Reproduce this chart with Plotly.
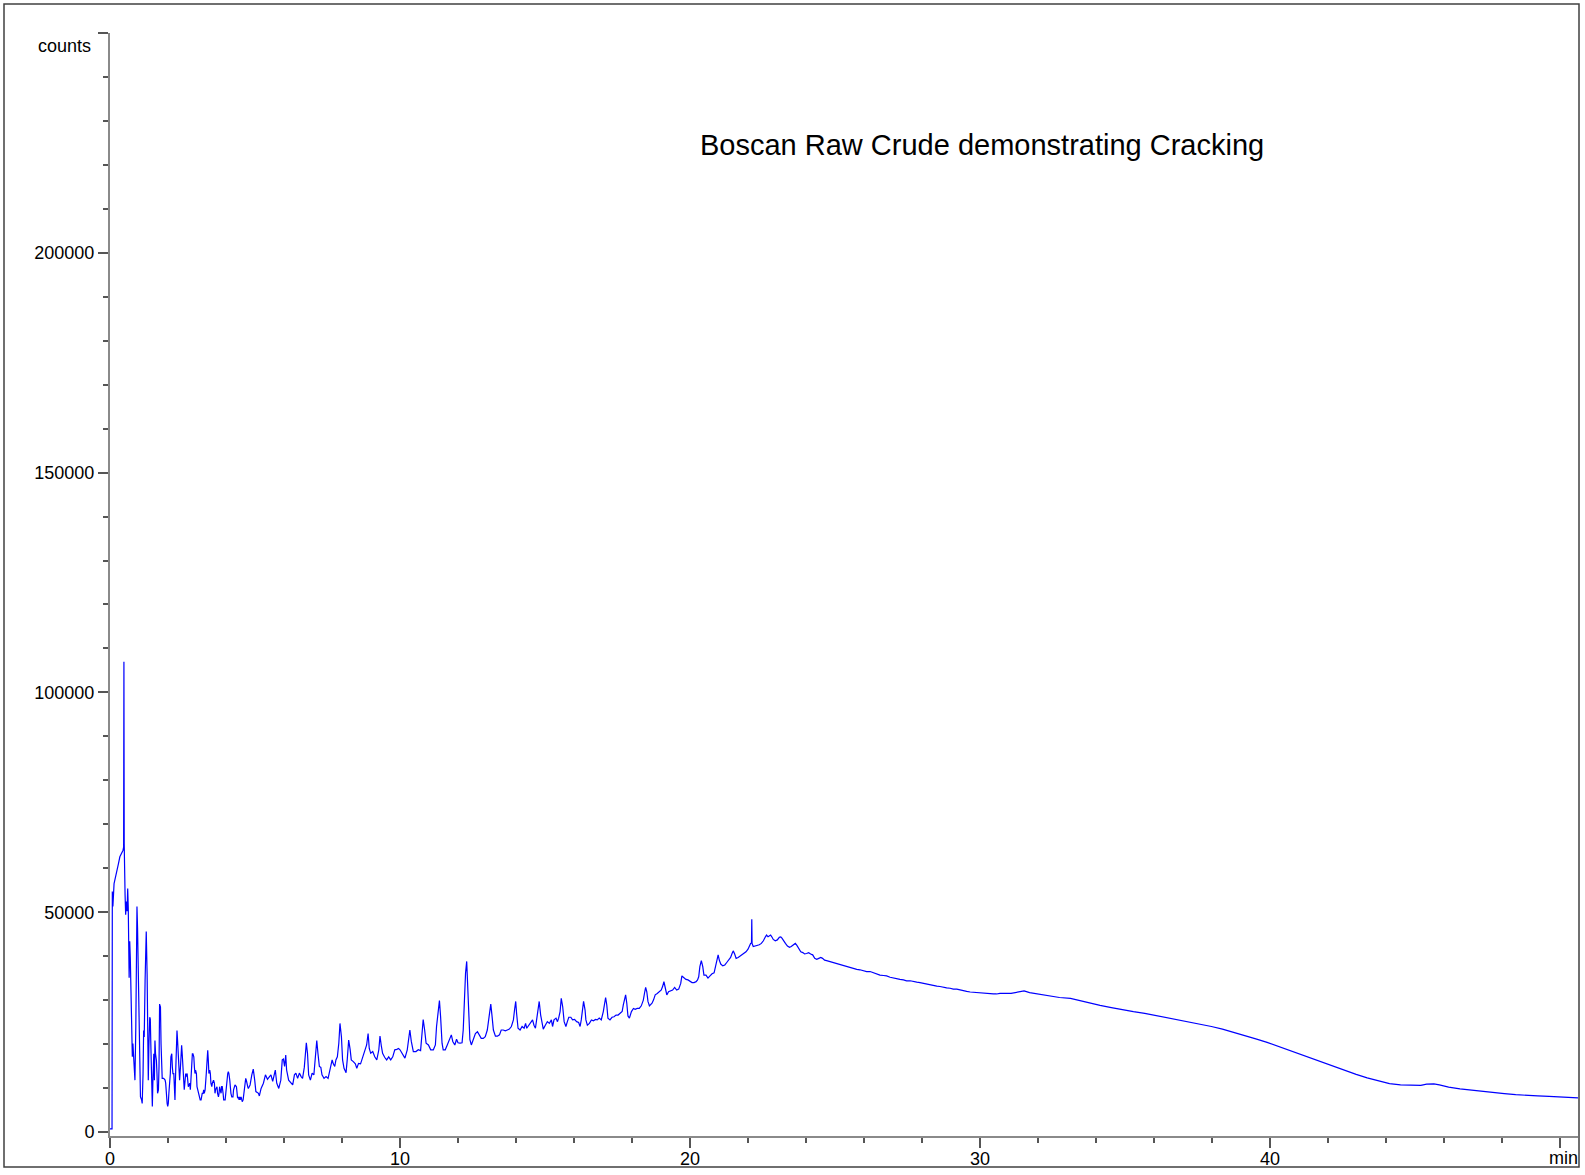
import plotly.graph_objects as go

# ---------------- data (retention time in min, detector counts) ----------------
early = [
    (0.00, 700), (0.07, 700), (0.08, 54700), (0.10, 51300), (0.14, 56500), (0.17, 57300),
    (0.23, 58800), (0.29, 61000), (0.34, 62600), (0.40, 63300), (0.45, 64100), (0.47, 64800),
    (0.48, 107000), (0.49, 65500), (0.52, 53900), (0.54, 49400), (0.56, 52400), (0.59, 50200),
    (0.61, 55400), (0.63, 50900), (0.66, 35100), (0.68, 43400), (0.70, 39600), (0.72, 34400),
    (0.75, 21600), (0.77, 17100), (0.79, 20100), (0.82, 14800), (0.84, 14100), (0.86, 11800),
    (0.89, 23800), (0.91, 41100), (0.93, 51300), (0.95, 46400), (0.98, 35900), (1.00, 23800),
    (1.02, 14100), (1.05, 8000), (1.09, 7300), (1.11, 6500), (1.14, 13300), (1.16, 23100),
    (1.18, 21600), (1.21, 34400), (1.23, 43400), (1.25, 45600), (1.28, 35900), (1.30, 22300),
    (1.32, 11800), (1.34, 19300), (1.37, 26100), (1.39, 25700), (1.41, 19300), (1.44, 11800),
    (1.46, 5800), (1.48, 11800), (1.51, 17800), (1.53, 11800), (1.55, 20800), (1.57, 17800),
    (1.60, 16300), (1.62, 13300), (1.64, 8800), (1.67, 9600), (1.69, 14800), (1.71, 29100),
    (1.74, 28400), (1.76, 20100), (1.78, 13300), (1.80, 12200), (1.85, 12200), (1.90, 11800),
    (1.92, 11100), (1.94, 8000), (1.97, 6500), (1.99, 5800), (2.01, 6500), (2.03, 8800),
    (2.06, 11100), (2.08, 13300), (2.10, 17100), (2.13, 17800), (2.15, 14800), (2.17, 13300),
    (2.20, 13300), (2.22, 8800), (2.24, 7300), (2.26, 12600), (2.29, 17800), (2.31, 23100),
    (2.33, 20800), (2.36, 17100), (2.38, 14100), (2.40, 11800), (2.43, 14800), (2.45, 18600),
    (2.47, 19700), (2.49, 17800), (2.52, 14100), (2.54, 11100), (2.56, 9600), (2.59, 11800),
    (2.61, 13300), (2.63, 12600), (2.66, 13300), (2.68, 11800), (2.70, 10300), (2.75, 11100),
    (2.77, 9600), (2.79, 11800), (2.82, 17100), (2.84, 17800), (2.86, 17800), (2.89, 17100),
    (2.91, 14800), (2.93, 13300), (2.95, 14100), (2.98, 13300), (3.00, 10300), (3.02, 9600),
    (3.05, 8800), (3.07, 8400), (3.11, 7300), (3.14, 7300), (3.16, 8000), (3.18, 8800),
    (3.21, 8800), (3.23, 9600), (3.25, 8800), (3.28, 9600), (3.32, 13300), (3.34, 17100),
    (3.37, 18600), (3.39, 16300), (3.41, 13300), (3.44, 14100), (3.46, 13300), (3.48, 11100),
    (3.51, 10300), (3.53, 11100), (3.57, 11800), (3.60, 11100), (3.62, 8800), (3.64, 9600),
    (3.67, 10300), (3.69, 10300), (3.71, 8800), (3.74, 8000), (3.76, 8800), (3.78, 10300),
    (3.80, 9600), (3.83, 8800), (3.85, 10300), (3.87, 10300), (3.90, 8800), (3.92, 7300),
    (3.97, 7300), (3.99, 8800), (4.01, 11100), (4.03, 11800), (4.06, 13300), (4.08, 13700),
    (4.10, 13300), (4.13, 11800), (4.15, 9600), (4.17, 8800), (4.20, 8000), (4.24, 8000),
    (4.26, 9600), (4.29, 10300), (4.31, 10700), (4.36, 10300), (4.38, 8400), (4.40, 7700),
    (4.43, 8000), (4.45, 7300), (4.47, 8000), (4.49, 7300), (4.52, 8000), (4.54, 7300),
    (4.56, 6900), (4.59, 7300), (4.61, 8800), (4.63, 10300), (4.66, 11100), (4.68, 12200),
    (4.70, 11800), (4.72, 10700), (4.75, 10300), (4.77, 9900), (4.79, 10300),
]

light_ends = [
    (4.83, 10700), (4.89, 13000), (4.94, 14300), (4.99, 11800), (5.03, 9200), (5.12, 8800),
    (5.15, 8200), (5.21, 9900), (5.29, 11100), (5.36, 13000), (5.43, 12000), (5.50, 12600),
    (5.55, 13000), (5.61, 11500), (5.66, 13400), (5.70, 14100), (5.75, 11100), (5.82, 9900),
    (5.89, 11800), (5.94, 16400), (5.98, 16600), (6.02, 14900), (6.06, 17500), (6.09, 14100),
    (6.16, 11800), (6.23, 11200), (6.30, 10700), (6.36, 13000), (6.41, 13400), (6.47, 12200),
    (6.53, 13400), (6.59, 12600), (6.64, 12200), (6.70, 14700), (6.74, 17100), (6.77, 20300),
    (6.81, 17900), (6.85, 13000), (6.91, 11800), (6.97, 13400), (7.03, 13000), (7.08, 17100),
    (7.13, 20800), (7.17, 17900), (7.22, 14900), (7.27, 14700), (7.31, 13000), (7.38, 12200),
    (7.45, 12600), (7.52, 12200), (7.59, 14100), (7.66, 16400), (7.70, 15500), (7.75, 14900),
    (7.79, 16400), (7.84, 17100), (7.89, 20200), (7.93, 24700), (7.98, 21700), (8.02, 16400),
    (8.07, 14500), (8.14, 13500), (8.18, 16400), (8.23, 20900), (8.28, 18800), (8.32, 16400),
    (8.39, 16000), (8.46, 15500), (8.51, 14500), (8.57, 15600), (8.64, 15500), (8.71, 17100),
    (8.78, 18700), (8.85, 19800), (8.90, 22400), (8.94, 19000), (8.99, 17900), (9.06, 18300),
    (9.13, 17100), (9.20, 16400), (9.27, 18700), (9.31, 21800), (9.36, 19400), (9.40, 17900),
    (9.47, 17000), (9.54, 16400), (9.61, 17100), (9.68, 16400), (9.75, 17100), (9.82, 18700),
    (9.89, 18800), (9.95, 19000),
]

alkanes = [
    (10.00, 18700), (10.09, 17500), (10.17, 16800), (10.25, 18700), (10.31, 21700), (10.34, 23200),
    (10.39, 20600), (10.46, 18300), (10.55, 18300), (10.63, 18700), (10.71, 18500), (10.76, 21700),
    (10.80, 25600), (10.85, 23200), (10.90, 20200), (10.98, 19800), (11.06, 18700), (11.15, 18700),
    (11.22, 19800), (11.26, 24000), (11.31, 27800), (11.36, 29900), (11.40, 26200), (11.45, 20200),
    (11.49, 18700), (11.56, 18700), (11.63, 19800), (11.70, 21000), (11.77, 22100), (11.82, 20600),
    (11.89, 19800), (11.95, 21100), (12.00, 20300), (12.07, 20200), (12.14, 20300), (12.18, 23200),
    (12.22, 30800), (12.26, 36100), (12.30, 38800), (12.33, 34600), (12.37, 26200), (12.41, 21000),
    (12.46, 19800), (12.53, 21000), (12.60, 22400), (12.67, 22800), (12.74, 21800), (12.80, 21300),
    (12.87, 21300), (12.94, 21700), (13.01, 23200), (13.08, 26200), (13.13, 29100), (13.17, 26600),
    (13.22, 23200), (13.29, 21800), (13.36, 21800), (13.43, 22100), (13.49, 23200), (13.56, 23200),
    (13.63, 23000), (13.70, 23200), (13.77, 23400), (13.84, 24000), (13.91, 25500), (13.95, 27800),
    (13.99, 29700), (14.02, 27000), (14.07, 23600), (14.14, 23200), (14.21, 24000), (14.28, 23600),
    (14.33, 24700), (14.37, 23600), (14.44, 24300), (14.51, 25100), (14.57, 25500), (14.62, 24300),
    (14.67, 23600), (14.71, 25500), (14.76, 28500), (14.80, 29700), (14.85, 26600), (14.90, 24300),
    (14.94, 23400), (15.01, 24300), (15.08, 25100), (15.15, 24700), (15.22, 25500), (15.26, 24000),
    (15.31, 25500), (15.38, 25900), (15.43, 25100), (15.47, 25900), (15.52, 27400), (15.56, 30400),
    (15.61, 28500), (15.66, 25100), (15.72, 24000), (15.77, 25100), (15.82, 26100), (15.89, 26100),
    (15.95, 25500), (16.02, 25600), (16.09, 25100), (16.16, 24900), (16.21, 24000), (16.25, 25500),
    (16.30, 27800), (16.33, 29700), (16.38, 27800), (16.41, 25500), (16.46, 24300), (16.53, 24700),
    (16.60, 25500), (16.67, 25300), (16.74, 25600), (16.80, 25500), (16.87, 25900), (16.94, 25500),
    (17.01, 27400), (17.06, 29700), (17.09, 30600), (17.13, 28900), (17.17, 25900), (17.24, 25500),
    (17.31, 26100), (17.38, 26200), (17.45, 26600), (17.52, 26600), (17.59, 27000), (17.66, 27400),
    (17.70, 28900), (17.75, 30400), (17.78, 31200), (17.82, 29300), (17.86, 26400), (17.91, 25900),
    (17.98, 27400), (18.05, 28100), (18.11, 27900), (18.18, 28100), (18.25, 28100), (18.32, 28700),
    (18.39, 30000), (18.44, 31900), (18.47, 32900), (18.51, 31900), (18.55, 29700), (18.60, 28700),
    (18.64, 28900), (18.69, 29300), (18.74, 30000), (18.80, 31200), (18.87, 31500), (18.94, 31900),
    (19.01, 32300), (19.06, 33200), (19.10, 34200), (19.15, 32700), (19.20, 31200), (19.26, 31900),
    (19.33, 32100), (19.40, 32300), (19.47, 32900), (19.54, 32300), (19.61, 32500), (19.68, 33800),
    (19.72, 35500), (19.79, 35000), (19.86, 34700), (19.93, 34600), (20.00, 34200), (20.07, 34000),
    (20.14, 34000), (20.21, 34200), (20.26, 34600),
]

hump = [
    (20.30, 35300), (20.34, 37600), (20.39, 39000), (20.44, 37600), (20.48, 35700), (20.55, 35700),
    (20.62, 35000), (20.69, 35500), (20.76, 36000), (20.83, 36200), (20.87, 37200), (20.92, 39100),
    (20.97, 40300), (21.01, 39100), (21.06, 38200), (21.13, 37800), (21.20, 38000), (21.26, 38500),
    (21.33, 39000), (21.40, 39700), (21.45, 40600), (21.49, 41200), (21.54, 40500), (21.59, 39500),
    (21.66, 39700), (21.72, 40000), (21.79, 40300), (21.86, 40600), (21.93, 41000), (22.00, 41600),
    (22.05, 42500), (22.09, 42900), (22.12, 43000), (22.13, 48400), (22.14, 42900), (22.18, 42200),
    (22.25, 42300), (22.32, 42500), (22.39, 42600), (22.46, 42900), (22.53, 43500), (22.60, 44400),
    (22.64, 44800), (22.69, 44400), (22.74, 44600), (22.78, 44800), (22.83, 44300), (22.87, 43800),
    (22.94, 43500), (23.01, 43700), (23.08, 44300), (23.13, 44400), (23.17, 44100), (23.22, 43500),
    (23.29, 42900), (23.36, 42300), (23.43, 42000), (23.49, 42200), (23.56, 42500), (23.63, 42900),
    (23.68, 42500), (23.75, 41800), (23.82, 41000), (23.89, 40800), (23.95, 40500), (24.02, 40600),
    (24.09, 40800), (24.16, 40500), (24.23, 40300), (24.30, 39500), (24.37, 39300), (24.44, 39500),
    (24.51, 39700), (24.57, 39500), (24.64, 39100), (24.71, 39000), (24.83, 38750), (24.94, 38500),
    (25.06, 38400), (25.17, 38100), (25.29, 37800), (25.40, 37600), (25.52, 37400), (25.63, 37200),
    (25.75, 37000), (25.86, 36900), (25.98, 36600), (26.09, 36500), (26.21, 36500), (26.32, 36200),
    (26.44, 36000), (26.55, 35700), (26.67, 35600), (26.78, 35500), (26.90, 35200), (27.01, 35000),
    (27.13, 34900), (27.24, 34700), (27.36, 34600), (27.47, 34400), (27.59, 34400), (27.70, 34200),
    (27.82, 34100), (27.93, 34000), (28.05, 33800), (28.16, 33700), (28.28, 33500), (28.39, 33400),
    (28.51, 33200), (28.62, 33100), (28.74, 32900), (28.85, 32800), (28.97, 32700), (29.08, 32500),
    (29.20, 32500), (29.31, 32300), (29.43, 32200), (29.54, 32000), (29.66, 31850), (29.77, 31770),
    (29.89, 31700), (30.00, 31620), (30.11, 31550), (30.23, 31470), (30.34, 31470), (30.46, 31400),
    (30.57, 31400),
]

tail = [
    (30.69, 31550), (31.07, 31550), (31.33, 31800), (31.52, 32100), (31.71, 31700), (31.97, 31400),
    (32.35, 30900), (32.74, 30600), (33.12, 30400), (33.44, 29900), (33.76, 29300), (34.14, 28800),
    (34.53, 28300), (34.91, 27800), (35.29, 27400), (35.68, 27000), (36.06, 26500), (36.44, 26000),
    (36.83, 25600), (37.21, 25100), (37.60, 24500), (37.98, 24000), (38.36, 23400), (38.75, 22700),
    (39.13, 21900), (39.51, 21200), (39.90, 20400), (40.28, 19500), (40.66, 18500), (41.05, 17500),
    (41.43, 16600), (41.82, 15700), (42.20, 14800), (42.58, 13900), (42.97, 13100), (43.35, 12300),
    (43.73, 11600), (44.12, 11000), (44.50, 10700), (44.88, 10600), (45.20, 10600), (45.40, 10900),
    (45.65, 10950), (45.84, 10700), (46.16, 10200), (46.55, 9800), (46.93, 9500), (47.31, 9200),
    (47.70, 9000), (48.08, 8750), (48.47, 8500), (48.85, 8300), (49.23, 8200), (49.62, 8100),
    (50.00, 8000), (50.38, 7850), (50.62, 7780),
]

y_tick_values = [0, 50000, 100000, 150000, 200000, 250000]
y_tick_labels = ["0", "50000", "100000", "150000", "200000", ""]
x_tick_values = [0, 10, 20, 30, 40, 50]
x_tick_labels = ["0", "10", "20", "30", "40", ""]

title_text = "Boscan Raw Crude demonstrating Cracking"
y_unit = "counts"
x_unit = "min"

points = early + light_ends + alkanes + hump + tail
time_min = [p[0] for p in points]
counts = [p[1] for p in points]

# ---------------- layout geometry (pixels) ----------------
W, H = 1585, 1175
L, R, T, B = 110, 7, 33, 39
PW, PH = W - L - R, H - T - B


def px(x):
    return (x - L) / PW


def py(y):
    return (H - B - y) / PH


FONT = "Liberation Sans, Arial, Helvetica, sans-serif"
AXIS_GREY = "#8a8a8a"
TICK_GREY = "#555555"

fig = go.Figure(
    go.Scatter(
        x=time_min,
        y=counts,
        mode="lines",
        line=dict(color="#0000ff", width=1.2),
        hoverinfo="skip",
    )
)

fig.update_layout(
    width=W,
    height=H,
    margin=dict(l=L, r=R, t=T, b=B, pad=0, autoexpand=False),
    paper_bgcolor="white",
    plot_bgcolor="white",
    showlegend=False,
    font=dict(family=FONT, size=18, color="black"),
)

fig.update_xaxes(
    range=[0, 50.62],
    automargin=False,
    tickmode="array",
    tickvals=x_tick_values,
    ticktext=x_tick_labels,
    ticks="outside",
    ticklen=10,
    tickwidth=1.5,
    tickcolor=TICK_GREY,
    ticklabelstandoff=-5,
    showline=True,
    linecolor=AXIS_GREY,
    linewidth=2,
    showgrid=False,
    zeroline=False,
    tickfont=dict(family=FONT, size=18, color="black"),
    minor=dict(tickmode="linear", tick0=0, dtick=2, ticks="outside", ticklen=5,
               tickwidth=1.5, tickcolor=TICK_GREY, showgrid=False),
)

fig.update_yaxes(
    range=[-910, 250000],
    automargin=False,
    tickmode="array",
    tickvals=y_tick_values,
    ticktext=y_tick_labels,
    ticks="outside",
    ticklen=10,
    tickwidth=1.5,
    tickcolor=TICK_GREY,
    showline=True,
    linecolor=AXIS_GREY,
    linewidth=2,
    showgrid=False,
    zeroline=False,
    tickfont=dict(family=FONT, size=18, color="black"),
    minor=dict(tickmode="linear", tick0=0, dtick=10000, ticks="outside", ticklen=5,
               tickwidth=1.5, tickcolor=TICK_GREY, showgrid=False),
)

# outer frame
fig.add_shape(
    type="rect", xref="paper", yref="paper",
    x0=px(4), x1=px(1579), y0=py(1167), y1=py(4),
    line=dict(color="#404040", width=1.5), fillcolor="rgba(0,0,0,0)", layer="below",
)

fig.add_annotation(
    text=y_unit, xref="paper", yref="paper", x=px(93), y=py(46),
    xanchor="right", yanchor="middle", showarrow=False,
    font=dict(family=FONT, size=18, color="black"),
)
fig.add_annotation(
    text=x_unit, xref="paper", yref="paper", x=px(1580), y=py(1158),
    xanchor="right", yanchor="middle", showarrow=False,
    font=dict(family=FONT, size=18, color="black"),
)
fig.add_annotation(
    text=title_text, xref="paper", yref="paper", x=px(982), y=py(145),
    xanchor="center", yanchor="middle", showarrow=False,
    font=dict(family=FONT, size=29, color="black"),
)

fig.write_html(
    "out.html",
    config={"displayModeBar": False},
    post_script="document.body.style.margin='0';document.body.style.overflow='hidden';",
)
